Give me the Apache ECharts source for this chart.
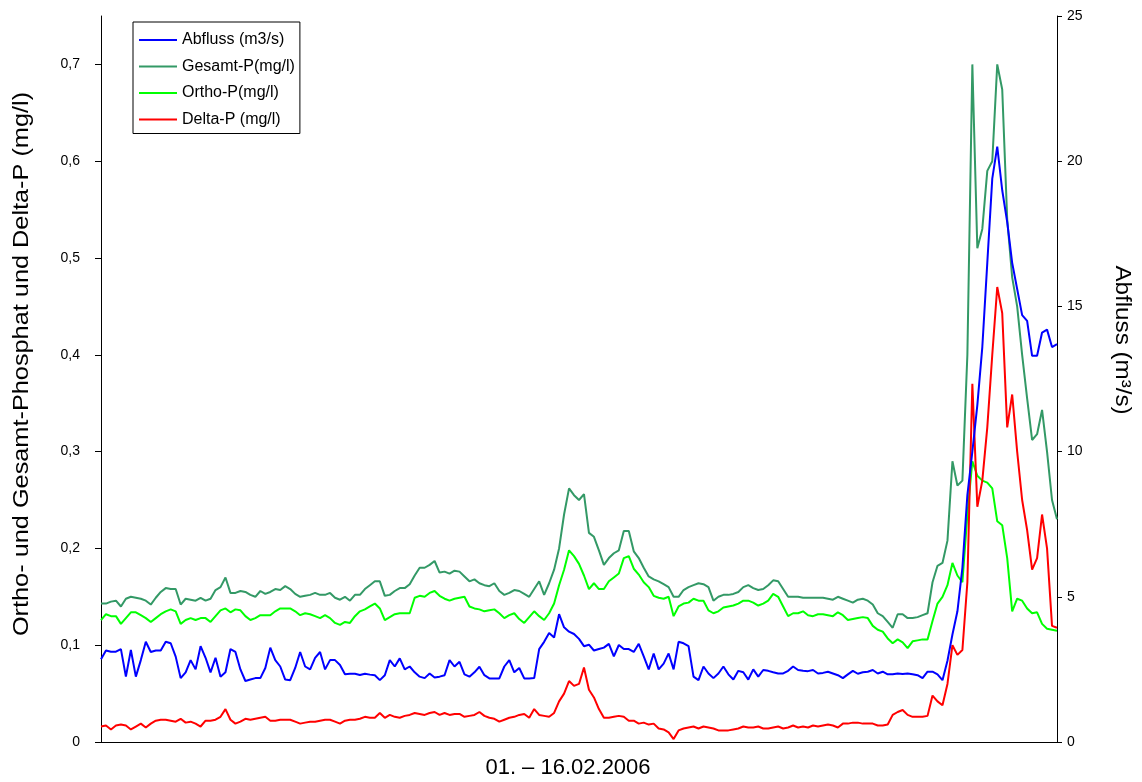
<!DOCTYPE html>
<html>
<head>
<meta charset="utf-8">
<script src="https://cdn.jsdelivr.net/npm/echarts@6/dist/echarts.min.js"></script>
<style>
  html, body { margin: 0; padding: 0; background: #fff; }
  #chart { width: 1142px; height: 782px; }
</style>
</head>
<body>
<div id="chart"></div>
<script>
// Messwerte 01.–16.02.2006, Abstand 2 Stunden
const abfluss = [
  2.85, 3.15, 3.11, 3.11, 3.2, 2.25, 3.17, 2.25, 2.82, 3.45,
  3.1, 3.15, 3.15, 3.45, 3.4, 2.94, 2.2, 2.4, 2.82, 2.5,
  3.3, 2.9, 2.4, 2.9, 2.25, 2.4, 3.2, 3.1, 2.5, 2.1,
  2.15, 2.2, 2.2, 2.55, 3.25, 2.82, 2.6, 2.15, 2.13, 2.55,
  3.1, 2.6, 2.5, 2.9, 3.1, 2.5, 2.82, 2.82, 2.65, 2.33,
  2.35, 2.35, 2.31, 2.35, 2.32, 2.3, 2.13, 2.3, 2.82, 2.6,
  2.88, 2.5, 2.6, 2.4, 2.25, 2.2, 2.36, 2.22, 2.25, 2.3,
  2.82, 2.6, 2.76, 2.33, 2.25, 2.4, 2.59, 2.3, 2.19, 2.19,
  2.19, 2.6, 2.82, 2.4, 2.55, 2.19, 2.19, 2.2, 3.2, 3.45,
  3.75, 3.6, 4.4, 3.95, 3.8, 3.72, 3.55, 3.3, 3.35, 3.15,
  3.2, 3.25, 3.38, 2.95, 3.34, 3.2, 3.2, 3.1, 3.38, 2.95,
  2.5, 3.05, 2.5, 2.7, 3.05, 2.5, 3.45, 3.4, 3.3, 2.25,
  2.13, 2.6, 2.36, 2.2, 2.36, 2.6, 2.33, 2.15, 2.45, 2.4,
  2.15, 2.5, 2.25, 2.48, 2.45, 2.4, 2.36, 2.36, 2.45, 2.6,
  2.48, 2.45, 2.44, 2.48, 2.36, 2.38, 2.42, 2.36, 2.3, 2.2,
  2.33, 2.45, 2.35, 2.4, 2.42, 2.48, 2.36, 2.42, 2.33, 2.33,
  2.36, 2.34, 2.36, 2.33, 2.3, 2.2, 2.42, 2.42, 2.33, 2.13,
  2.8, 3.7, 4.5, 6.0, 8.5, 10.0, 11.6, 13.6, 16.5, 19.4,
  20.5, 19.0, 17.9, 16.5, 15.6, 14.7, 14.5, 13.3, 13.3, 14.1,
  14.2, 13.6, 13.7
];

const gesamtP = [
  0.143, 0.143, 0.145, 0.146, 0.140, 0.148, 0.150, 0.149, 0.148, 0.146,
  0.142, 0.149, 0.155, 0.159, 0.158, 0.158, 0.142, 0.148, 0.147, 0.146,
  0.149, 0.146, 0.148, 0.157, 0.160, 0.170, 0.154, 0.154, 0.156, 0.155,
  0.152, 0.150, 0.156, 0.153, 0.155, 0.158, 0.157, 0.161, 0.158, 0.153,
  0.150, 0.151, 0.152, 0.154, 0.152, 0.152, 0.154, 0.149, 0.147, 0.150,
  0.146, 0.152, 0.152, 0.158, 0.162, 0.166, 0.166, 0.151, 0.152, 0.156,
  0.159, 0.159, 0.163, 0.172, 0.180, 0.180, 0.183, 0.187, 0.175, 0.176,
  0.174, 0.177, 0.176, 0.171, 0.166, 0.168, 0.164, 0.162, 0.161, 0.164,
  0.156, 0.152, 0.154, 0.157, 0.156, 0.153, 0.150, 0.158, 0.166, 0.152,
  0.164, 0.178, 0.200, 0.235, 0.262, 0.255, 0.250, 0.256, 0.216, 0.212,
  0.198, 0.183, 0.190, 0.195, 0.198, 0.218, 0.218, 0.197, 0.190, 0.180,
  0.171, 0.168, 0.166, 0.163, 0.160, 0.150, 0.150, 0.157, 0.160, 0.162,
  0.164, 0.163, 0.160, 0.146, 0.150, 0.152, 0.152, 0.153, 0.155, 0.160,
  0.162, 0.159, 0.157, 0.158, 0.162, 0.167, 0.166, 0.158, 0.150, 0.150,
  0.150, 0.149, 0.149, 0.149, 0.149, 0.149, 0.148, 0.147, 0.150, 0.148,
  0.146, 0.144, 0.147, 0.148, 0.146, 0.142, 0.133, 0.130, 0.124, 0.118,
  0.132, 0.132, 0.128, 0.128, 0.129, 0.131, 0.133, 0.165, 0.182, 0.185,
  0.208, 0.290, 0.265, 0.270, 0.400, 0.700, 0.510, 0.530, 0.590, 0.600,
  0.700, 0.674, 0.540, 0.480, 0.450, 0.400, 0.355, 0.312, 0.318, 0.343,
  0.300, 0.250, 0.230
];

const orthoP = [
  0.126, 0.132, 0.130, 0.130, 0.122, 0.128, 0.134, 0.134, 0.131, 0.128,
  0.124, 0.128, 0.132, 0.135, 0.137, 0.135, 0.122, 0.126, 0.128, 0.126,
  0.128, 0.128, 0.124, 0.130, 0.136, 0.138, 0.134, 0.137, 0.136, 0.130,
  0.126, 0.128, 0.131, 0.131, 0.131, 0.135, 0.138, 0.138, 0.138, 0.135,
  0.131, 0.133, 0.132, 0.130, 0.128, 0.131, 0.128, 0.123, 0.121, 0.124,
  0.123, 0.130, 0.135, 0.137, 0.140, 0.143, 0.138, 0.126, 0.129, 0.132,
  0.133, 0.133, 0.133, 0.149, 0.151, 0.150, 0.154, 0.156, 0.151, 0.148,
  0.146, 0.148, 0.149, 0.150, 0.140, 0.138, 0.137, 0.135, 0.136, 0.137,
  0.133, 0.128, 0.131, 0.133, 0.127, 0.123, 0.129, 0.135, 0.130, 0.126,
  0.133, 0.143, 0.162, 0.178, 0.198, 0.192, 0.184, 0.172, 0.158, 0.164,
  0.158, 0.158, 0.166, 0.170, 0.174, 0.190, 0.192, 0.179, 0.173, 0.165,
  0.160, 0.151, 0.149, 0.148, 0.150, 0.130, 0.140, 0.143, 0.144, 0.148,
  0.146, 0.146, 0.136, 0.133, 0.135, 0.139, 0.140, 0.141, 0.143, 0.146,
  0.146, 0.144, 0.141, 0.143, 0.146, 0.153, 0.150, 0.140, 0.130, 0.133,
  0.133, 0.135, 0.131, 0.130, 0.132, 0.132, 0.131, 0.130, 0.134, 0.131,
  0.126, 0.127, 0.128, 0.129, 0.128, 0.120, 0.116, 0.114, 0.107, 0.102,
  0.106, 0.103, 0.097, 0.104, 0.105, 0.106, 0.106, 0.125, 0.143, 0.150,
  0.162, 0.185, 0.172, 0.165, 0.235, 0.290, 0.275, 0.270, 0.268, 0.262,
  0.228, 0.224, 0.190, 0.135, 0.148, 0.146, 0.138, 0.133, 0.134, 0.122,
  0.117, 0.116, 0.115
];

const deltaP = [
  0.016, 0.017, 0.013, 0.017, 0.018, 0.017, 0.013, 0.016, 0.019, 0.015,
  0.019, 0.022, 0.023, 0.023, 0.022, 0.021, 0.024, 0.020, 0.021, 0.019,
  0.016, 0.022, 0.022, 0.023, 0.026, 0.034, 0.023, 0.019, 0.021, 0.024,
  0.023, 0.024, 0.025, 0.026, 0.022, 0.022, 0.023, 0.023, 0.023, 0.021,
  0.019, 0.020, 0.021, 0.021, 0.022, 0.023, 0.023, 0.021, 0.019, 0.022,
  0.023, 0.023, 0.024, 0.026, 0.025, 0.025, 0.030, 0.025, 0.028, 0.026,
  0.025, 0.027, 0.028, 0.030, 0.029, 0.028, 0.030, 0.031, 0.028, 0.030,
  0.028, 0.029, 0.029, 0.026, 0.027, 0.028, 0.031, 0.027, 0.025, 0.024,
  0.021, 0.023, 0.025, 0.026, 0.028, 0.029, 0.025, 0.034, 0.028, 0.027,
  0.026, 0.030, 0.042, 0.050, 0.063, 0.058, 0.060, 0.077, 0.054, 0.046,
  0.034, 0.025, 0.025, 0.026, 0.027, 0.026, 0.022, 0.022, 0.019, 0.020,
  0.018, 0.019, 0.014, 0.013, 0.010, 0.003, 0.012, 0.014, 0.015, 0.016,
  0.014, 0.016, 0.015, 0.014, 0.012, 0.012, 0.012, 0.013, 0.014, 0.016,
  0.015, 0.015, 0.016, 0.014, 0.014, 0.015, 0.016, 0.014, 0.015, 0.017,
  0.015, 0.016, 0.015, 0.017, 0.016, 0.017, 0.018, 0.017, 0.015, 0.019,
  0.019, 0.020, 0.020, 0.019, 0.019, 0.019, 0.017, 0.017, 0.018, 0.028,
  0.031, 0.033, 0.028, 0.026, 0.026, 0.026, 0.027, 0.048, 0.042, 0.038,
  0.060, 0.100, 0.090, 0.095, 0.165, 0.370, 0.243, 0.270, 0.325, 0.400,
  0.470, 0.443, 0.325, 0.359, 0.300, 0.250, 0.219, 0.178, 0.190, 0.235,
  0.200, 0.120, 0.118
];

const seriesNames = ['Abfluss (m3/s)', 'Gesamt-P(mg/l)', 'Ortho-P(mg/l)', 'Delta-P (mg/l)'];
const seriesColors = ['#0000ff', '#339966', '#00ff00', '#ff0000'];
const leftTicks = [0, 0.1, 0.2, 0.3, 0.4, 0.5, 0.6, 0.7];
const rightTicks = [0, 5, 10, 15, 20, 25];

// Zeitstempel im 2-Stunden-Takt ab 01.02.2006 00:00
const times = abfluss.map((_, i) => {
  const h = i * 2;
  const day = 1 + Math.floor(h / 24);
  const hh = h % 24;
  return String(day).padStart(2, '0') + '.02.2006 ' + String(hh).padStart(2, '0') + ':00';
});

const FONT = '"Liberation Sans", Arial, sans-serif';
const chart = echarts.init(document.getElementById('chart'), null, { renderer: 'canvas' });

function lineSeries(name, data, color, axisIndex) {
  return {
    name: name,
    type: 'line',
    yAxisIndex: axisIndex,
    data: data,
    symbol: 'none',
    showSymbol: false,
    smooth: false,
    lineStyle: { color: color, width: 2 },
    itemStyle: { color: color },
    emphasis: { disabled: true }
  };
}

chart.setOption({
  animation: false,
  backgroundColor: '#ffffff',
  grid: { left: 101, right: 85, top: 16, bottom: 40, containLabel: false },
  legend: {
    orient: 'vertical',
    left: 133,
    top: 22,
    data: seriesNames,
    icon: 'rect',
    backgroundColor: '#ffffff',
    borderColor: '#000000',
    borderWidth: 1,
    padding: [10, 5, 6, 6],
    itemWidth: 38,
    itemHeight: 2,
    itemGap: 10.5,
    selectedMode: false,
    textStyle: { color: '#000', fontSize: 16, fontFamily: FONT, lineHeight: 16 }
  },
  xAxis: {
    type: 'category',
    data: times,
    boundaryGap: false,
    axisLine: { show: true, lineStyle: { color: '#000', width: 1 } },
    axisTick: { show: false },
    axisLabel: { show: false },
    splitLine: { show: false }
  },
  yAxis: [
    {
      type: 'value',
      position: 'left',
      min: 0,
      max: 0.75,
      axisLine: { show: true, lineStyle: { color: '#000', width: 1 } },
      axisTick: { show: true, length: 6, customValues: leftTicks, lineStyle: { color: '#000' } },
      axisLabel: {
        customValues: leftTicks,
        margin: 21,
        color: '#000',
        fontSize: 14,
        fontFamily: FONT,
        formatter: v => (v === 0 ? '0' : v.toFixed(1).replace('.', ','))
      },
      splitLine: { show: false }
    },
    {
      type: 'value',
      position: 'right',
      min: 0,
      max: 25,
      interval: 5,
      axisLine: { show: true, lineStyle: { color: '#000', width: 1 } },
      axisTick: { show: true, length: 5, customValues: rightTicks, lineStyle: { color: '#000' } },
      axisLabel: {
        customValues: rightTicks,
        margin: 10,
        color: '#000',
        fontSize: 14,
        fontFamily: FONT
      },
      splitLine: { show: false }
    }
  ],
  graphic: [
    {
      type: 'text',
      x: 22, y: 364,
      rotation: Math.PI / 2,
      scaleX: 1.15,
      style: {
        text: 'Ortho- und Gesamt-Phosphat und Delta-P (mg/l)',
        font: '22px ' + FONT,
        fill: '#000',
        textAlign: 'center',
        textVerticalAlign: 'middle'
      }
    },
    {
      type: 'text',
      x: 1122, y: 340,
      rotation: -Math.PI / 2,
      scaleX: 1.1,
      style: {
        text: 'Abfluss (m³/s)',
        font: '22px ' + FONT,
        fill: '#000',
        textAlign: 'center',
        textVerticalAlign: 'middle'
      }
    },
    {
      type: 'text',
      x: 568, y: 768,
      style: {
        text: '01. – 16.02.2006',
        font: '22px ' + FONT,
        fill: '#000',
        textAlign: 'center',
        textVerticalAlign: 'middle'
      }
    }
  ],
  series: [
    lineSeries(seriesNames[1], gesamtP, seriesColors[1], 0),
    lineSeries(seriesNames[2], orthoP, seriesColors[2], 0),
    lineSeries(seriesNames[3], deltaP, seriesColors[3], 0),
    lineSeries(seriesNames[0], abfluss, seriesColors[0], 1)
  ]
});
</script>
</body>
</html>
